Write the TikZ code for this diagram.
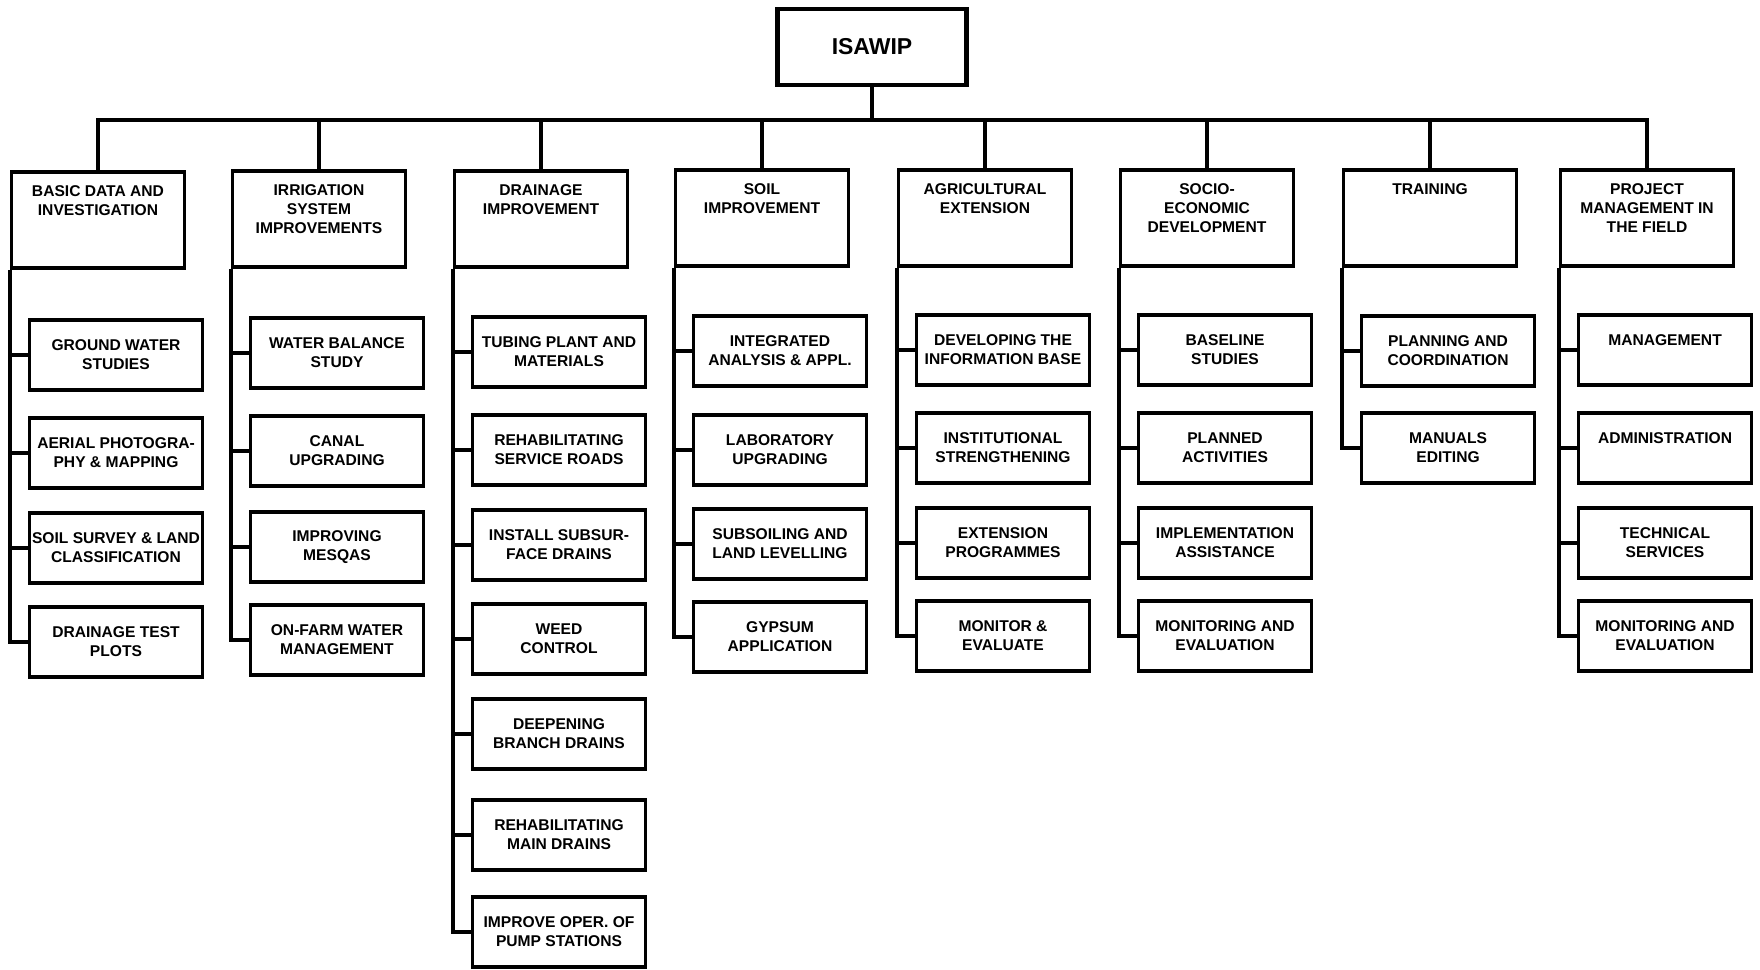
\documentclass[tikz,border=0pt]{standalone}
\usepackage{fontspec}
\setmainfont{Liberation Sans}
\tikzset{
    %Define box and line styles
    link/.style={line width=1.6pt},
    root/.style={draw, line width=2.4pt, minimum width=94.5pt, minimum height=38pt, font=\fontsize{11.5}{13}\selectfont\bfseries},
    head/.style={draw, line width=1.6pt, minimum width=86.5pt, minimum height=48pt, inner ysep=7pt, inner xsep=1pt, font=\fontsize{7.8}{9.5}\selectfont\bfseries},
    task/.style={draw, line width=1.6pt, minimum width=86.5pt, minimum height=35pt, inner sep=1pt, align=center, font=\fontsize{7.8}{9.5}\selectfont\bfseries}
}
\def\headText#1{\begin{minipage}[t][34pt][t]{84pt}\centering #1\end{minipage}}

\begin{document}
\begin{tikzpicture}[x=0.5pt,y=-0.5pt]
    \useasboundingbox (0,0) rectangle (1760,969);

    \node[root] (0) at (872,47) {ISAWIP};
    \coordinate (bus) at (872,120);

    \node[head] (1) at (98,220) {\headText{BASIC DATA AND\\INVESTIGATION}};
    \node[head] (2) at (319,219) {\headText{IRRIGATION\\SYSTEM\\IMPROVEMENTS}};
    \node[head] (3) at (541,219) {\headText{DRAINAGE\\IMPROVEMENT}};
    \node[head] (4) at (762,218) {\headText{SOIL\\IMPROVEMENT}};
    \node[head] (5) at (985,218) {\headText{AGRICULTURAL\\EXTENSION}};
    \node[head] (6) at (1207,218) {\headText{SOCIO-\\ECONOMIC\\DEVELOPMENT}};
    \node[head] (7) at (1430,218) {\headText{TRAINING}};
    \node[head] (8) at (1647,218) {\headText{PROJECT\\MANAGEMENT IN\\THE FIELD}};

    \node[task] (11) at (116,355) {GROUND WATER\\STUDIES};
    \node[task] (12) at (116,453) {AERIAL PHOTOGRA-\\PHY \& MAPPING};
    \node[task] (13) at (116,548) {SOIL SURVEY \& LAND\\CLASSIFICATION};
    \node[task] (14) at (116,642) {DRAINAGE TEST\\PLOTS};

    \node[task] (21) at (337,353) {WATER BALANCE\\STUDY};
    \node[task] (22) at (337,451) {CANAL\\UPGRADING};
    \node[task] (23) at (337,547) {IMPROVING\\MESQAS};
    \node[task] (24) at (337,640) {ON-FARM WATER\\MANAGEMENT};

    \node[task] (31) at (559,352) {TUBING PLANT AND\\MATERIALS};
    \node[task] (32) at (559,450) {REHABILITATING\\SERVICE ROADS};
    \node[task] (33) at (559,545) {INSTALL SUBSUR-\\FACE DRAINS};
    \node[task] (34) at (559,639) {WEED\\CONTROL};
    \node[task] (35) at (559,734) {DEEPENING\\BRANCH DRAINS};
    \node[task] (36) at (559,835) {REHABILITATING\\MAIN DRAINS};
    \node[task] (37) at (559,932) {IMPROVE OPER. OF\\PUMP STATIONS};

    \node[task] (41) at (780,351) {INTEGRATED\\ANALYSIS \& APPL.};
    \node[task] (42) at (780,450) {LABORATORY\\UPGRADING};
    \node[task] (43) at (780,544) {SUBSOILING AND\\LAND LEVELLING};
    \node[task] (44) at (780,637) {GYPSUM\\APPLICATION};

    \node[task] (51) at (1003,350) {DEVELOPING THE\\INFORMATION BASE};
    \node[task] (52) at (1003,448) {INSTITUTIONAL\\STRENGTHENING};
    \node[task] (53) at (1003,543) {EXTENSION\\PROGRAMMES};
    \node[task] (54) at (1003,636) {MONITOR \&\\EVALUATE};

    \node[task] (61) at (1225,350) {BASELINE\\STUDIES};
    \node[task] (62) at (1225,448) {PLANNED\\ACTIVITIES};
    \node[task] (63) at (1225,543) {IMPLEMENTATION\\ASSISTANCE};
    \node[task] (64) at (1225,636) {MONITORING AND\\EVALUATION};

    \node[task] (71) at (1448,351) {PLANNING AND\\COORDINATION};
    \node[task] (72) at (1448,448) {MANUALS\\EDITING};

    \node[task] (81) at (1665,350) {MANAGEMENT\\\mbox{}};
    \node[task] (82) at (1665,448) {ADMINISTRATION\\\mbox{}};
    \node[task] (83) at (1665,543) {TECHNICAL\\SERVICES};
    \node[task] (84) at (1665,636) {MONITORING AND\\EVALUATION};

    % top level
    \draw[link] (0) -- (bus);
    \draw[link] (1.north) |- (bus);
    \draw[link] (2.north) |- (bus);
    \draw[link] (3.north) |- (bus);
    \draw[link] (4.north) |- (bus);
    \draw[link] (5.north) |- (bus);
    \draw[link] (6.north) |- (bus);
    \draw[link] (7.north) |- (bus);
    \draw[link] (8.north) |- (bus);

    % branches
    \draw[link] (1.south west) |- (11.west);
    \draw[link] (1.south west) |- (12.west);
    \draw[link] (1.south west) |- (13.west);
    \draw[link] (1.south west) |- (14.west);
    \draw[link] (2.south west) |- (21.west);
    \draw[link] (2.south west) |- (22.west);
    \draw[link] (2.south west) |- (23.west);
    \draw[link] (2.south west) |- (24.west);
    \draw[link] (3.south west) |- (31.west);
    \draw[link] (3.south west) |- (32.west);
    \draw[link] (3.south west) |- (33.west);
    \draw[link] (3.south west) |- (34.west);
    \draw[link] (3.south west) |- (35.west);
    \draw[link] (3.south west) |- (36.west);
    \draw[link] (3.south west) |- (37.west);
    \draw[link] (4.south west) |- (41.west);
    \draw[link] (4.south west) |- (42.west);
    \draw[link] (4.south west) |- (43.west);
    \draw[link] (4.south west) |- (44.west);
    \draw[link] (5.south west) |- (51.west);
    \draw[link] (5.south west) |- (52.west);
    \draw[link] (5.south west) |- (53.west);
    \draw[link] (5.south west) |- (54.west);
    \draw[link] (6.south west) |- (61.west);
    \draw[link] (6.south west) |- (62.west);
    \draw[link] (6.south west) |- (63.west);
    \draw[link] (6.south west) |- (64.west);
    \draw[link] (7.south west) |- (71.west);
    \draw[link] (7.south west) |- (72.west);
    \draw[link] (8.south west) |- (81.west);
    \draw[link] (8.south west) |- (82.west);
    \draw[link] (8.south west) |- (83.west);
    \draw[link] (8.south west) |- (84.west);
\end{tikzpicture}
\end{document}
